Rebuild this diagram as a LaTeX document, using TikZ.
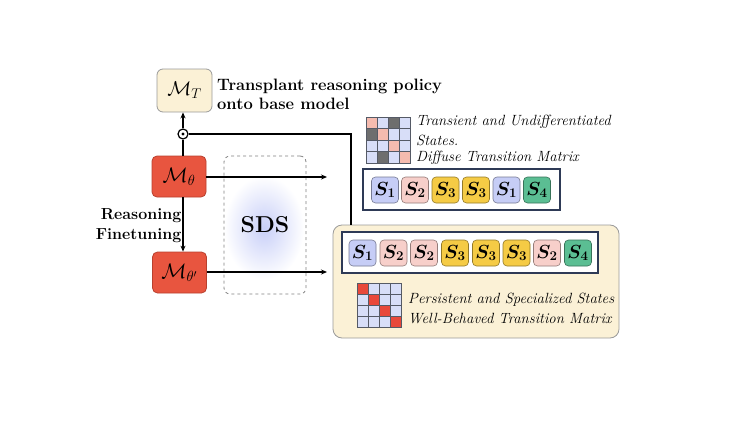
\RequirePackage{fix-cm}
\documentclass[tikz,border=0pt]{standalone}
\usepackage{amsmath,bm}
\usetikzlibrary{arrows.meta,calc}
\definecolor{redm}{HTML}{E8553F}
\definecolor{redd}{HTML}{B8402E}
\definecolor{cream}{HTML}{FBF1D6}
\definecolor{creamd}{HTML}{9A9A9A}
\definecolor{navy}{HTML}{2E3A56}
\definecolor{tkblue}{HTML}{C6CDF6}
\definecolor{tkpink}{HTML}{F7CFCA}
\definecolor{tkyel}{HTML}{F5CB45}
\definecolor{tkgrn}{HTML}{5BBE93}
\definecolor{mblue}{HTML}{D8DEF8}
\definecolor{mpink}{HTML}{F5BBAF}
\definecolor{mgray}{HTML}{6E6E6E}
\definecolor{mred}{HTML}{E8483A}
\definecolor{mline}{HTML}{555A66}
\tikzset{
  model/.style={draw=redd, fill=redm, rounded corners=5pt, minimum width=54pt, minimum height=41pt, inner sep=0pt, line width=0.8pt},
  tok/.style={draw=#1!60!black, fill=#1, rounded corners=4pt, minimum width=27pt, minimum height=26pt, inner sep=0pt, line width=0.6pt},
  seqbox/.style={draw=navy, fill=white, line width=2pt, inner sep=0pt},
  conn/.style={line width=1.4pt, black},
  arr/.style={conn, -{Stealth[length=6pt,width=5pt]}},
  itx/.style={font=\itshape\fontsize{14.8}{18}\selectfont, align=left, anchor=west, inner sep=0pt},
  cell/.style={draw=mline, line width=0.5pt},
}
\newcommand{\tokS}[1]{$\bm{S}_{\bm{#1}}$}
\begin{document}
\begin{tikzpicture}[x=1pt,y=-1pt]
\useasboundingbox (0,0) rectangle (735,423);
% SDS glow and dashed box
\shade[inner color={rgb,255:red,200;green,207;blue,248}, outer color=white] (264,228) ellipse (40pt and 52pt);
\node[draw=gray, dashed, rounded corners=6pt, minimum width=82pt, minimum height=138pt, line width=0.8pt] (sds) at (265,225) {};
\node[font=\bfseries\fontsize{23}{26}\selectfont] (sdst) at (265,225) {SDS};

% models
\node[draw=creamd, fill=cream, rounded corners=6pt, minimum width=55pt, minimum height=43pt, inner sep=0pt, line width=0.8pt] (mt) at (184.5,90.5) {\fontsize{20}{22}\selectfont$\mathcal{M}_T$};
\node[model] (m1) at (179,176.5) {\fontsize{21}{22}\selectfont$\mathcal{M}_\theta$};
\node[model] (m2) at (179.5,272.5) {\fontsize{21}{22}\selectfont$\mathcal{M}_{\theta'}$};
\node[draw, circle, line width=1.2pt, minimum size=10pt, inner sep=0pt, fill=white] (od) at (183,134) {};
\fill (od) circle (1.6pt);

\node[font=\bfseries\fontsize{16.5}{19}\selectfont, align=left, anchor=west, inner sep=0pt] (tt) at (217,94.5) {Transplant reasoning policy\\onto base model};
\node[font=\bfseries\fontsize{16}{20}\selectfont, align=right, anchor=east, inner sep=0pt] (rf) at (181.5,225.5) {Reasoning\\Finetuning};

% big cream box
\node[draw=creamd, fill=cream, rounded corners=9pt, minimum width=286pt, minimum height=113pt, inner sep=0pt, line width=0.8pt] (big) at (476,281.5) {};

% top sequence
\node[seqbox, minimum width=197pt, minimum height=41pt] (seqA) at (461.5,189.5) {};
\foreach \i/\x/\c/\n in {1/385/tkblue/1, 2/415/tkpink/2, 3/445.5/tkyel/3, 4/476/tkyel/3, 5/506.5/tkblue/1, 6/537/tkgrn/4}
  \node[tok=\c, font=\fontsize{19}{20}\selectfont] (a\i) at (\x,190) {\tokS{\n}};

% bottom sequence
\node[seqbox, minimum width=256pt, minimum height=41pt] (seqB) at (470,252.5) {};
\foreach \i/\x/\c/\n in {1/362.5/tkblue/1, 2/393.5/tkpink/2, 3/424/tkpink/2, 4/455/tkyel/3, 5/486/tkyel/3, 6/516.5/tkyel/3, 7/547/tkpink/2, 8/578/tkgrn/4}
  \node[tok=\c, font=\fontsize{19}{20}\selectfont] (b\i) at (\x,253) {\tokS{\n}};

% top matrix (diffuse)
\foreach \c [count=\n from 0] in {mpink,mblue,mgray,mblue, mgray,mpink,mblue,mblue, mblue,mblue,mpink,mblue, mblue,mgray,mblue,mpink} {
  \pgfmathsetmacro{\cx}{366+11*mod(\n,4)}
  \pgfmathsetmacro{\cy}{117+11.5*floor(\n/4)}
  \filldraw[cell, fill=\c] (\cx,\cy) rectangle ++(11,11.5);
}

% bottom matrix (diagonal)
\foreach \n in {0,...,15} {
  \pgfmathsetmacro{\cx}{357+11*mod(\n,4)}
  \pgfmathsetmacro{\cy}{283+11*floor(\n/4)}
  \pgfmathtruncatemacro{\dg}{mod(\n,5)==0 ? 1 : 0}
  \ifnum\dg=1 \filldraw[cell, fill=mred] (\cx,\cy) rectangle ++(11,11);
  \else \filldraw[cell, fill=mblue] (\cx,\cy) rectangle ++(11,11); \fi
}

% italic texts
\node[itx] (t1) at (416,122) {Transient and Undifferentiated};
\node[itx] (t2) at (416,140) {States.};
\node[itx] (t3) at (416,158) {Diffuse Transition Matrix};
\node[itx] (t4) at (408,300) {Persistent and Specialized States};
\node[itx] (t5) at (408,319) {Well-Behaved Transition Matrix};

% connectors
\coordinate (e1) at (327,177);
\coordinate (e2) at (327,272);
\coordinate (cr) at (351,134);
\draw[conn] (m1.north -| od) -- (od.south);
\draw[arr] (od.north) -- (od.north |- mt.south);
\draw[conn] (od.east) -- (cr) -- (cr |- big.north);
\draw[arr] (m1.south -| od) -- (m2.north -| od);
\draw[arr] (m1.east |- e1) -- (e1);
\draw[arr] (m2.east |- e2) -- (e2);
\end{tikzpicture}
\end{document}
